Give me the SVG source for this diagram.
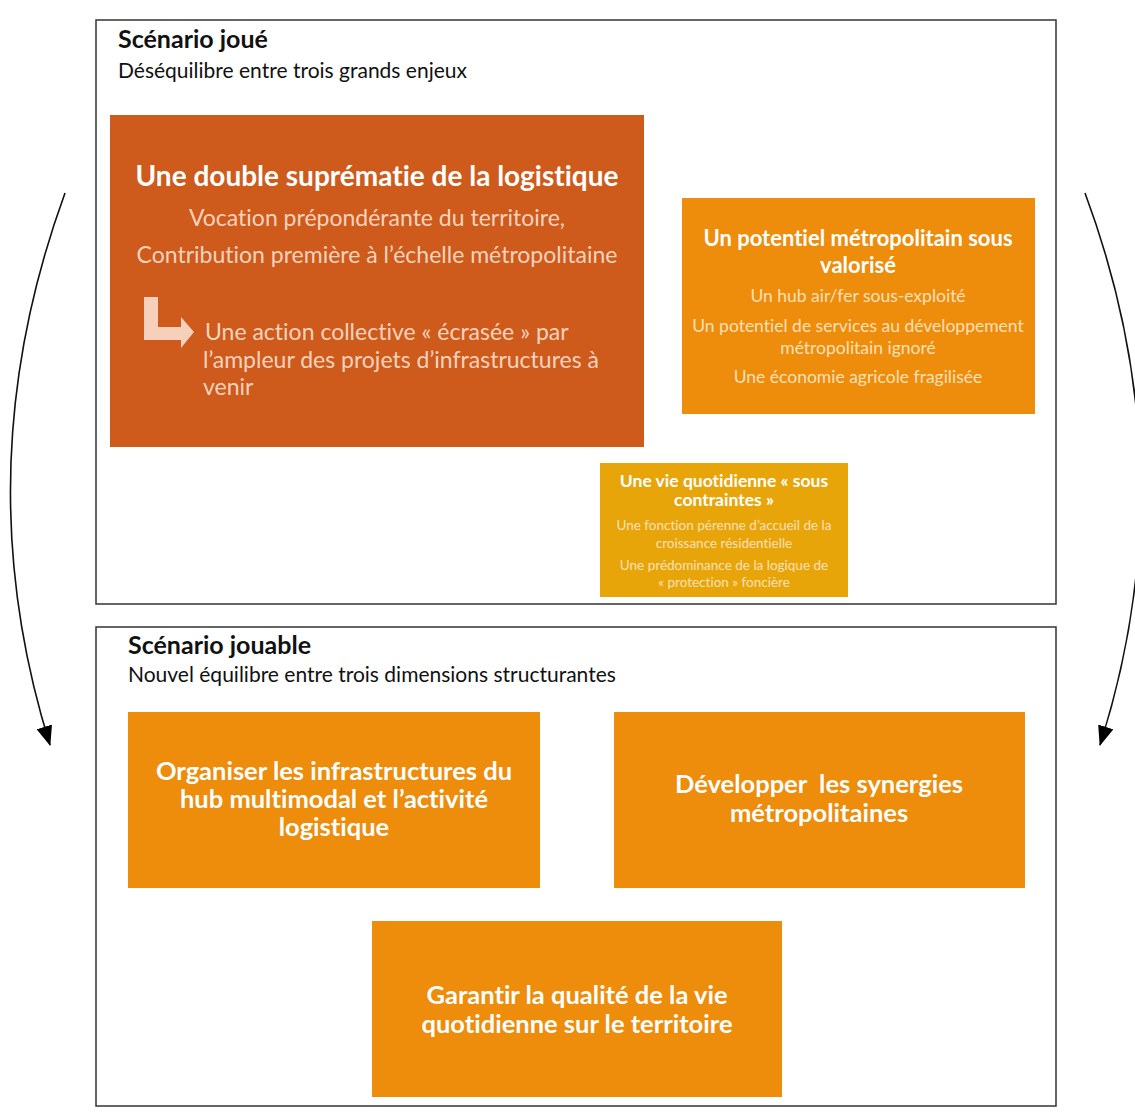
<svg xmlns="http://www.w3.org/2000/svg" width="1135" height="1120" viewBox="0 0 1135 1120">
<style>
text{font-family:Lato,"Open Sans","Liberation Sans",sans-serif;font-variant-ligatures:none}
.frame{fill:#fff;stroke:#333;stroke-width:1.5}
.h{font-weight:bold;fill:#111;font-size:25px}
.s{fill:#111;font-size:21px}
.wt{fill:#fff;font-weight:bold;text-anchor:middle}
.lt{fill:#F7D2BC;text-anchor:middle}
.lt2{fill:#FCE0B8;text-anchor:middle}
.conn{fill:none;stroke:#111;stroke-width:1.6}
</style>
<defs>
<marker id="ahb" viewBox="0 0 20 16" refX="19" refY="8" markerWidth="20" markerHeight="16" markerUnits="userSpaceOnUse" orient="auto">
<path d="M0,0 L20,8 L0,16 z" fill="#000"/>
</marker>
</defs>
<rect width="1135" height="1120" fill="#fff"/>
<g id="frame-joue">
<rect class="frame" x="96" y="20" width="960" height="584"/>
<text class="h" x="118" y="48">Scénario joué</text>
<text class="s" x="118" y="78">Déséquilibre entre trois grands enjeux</text>
</g>
<g id="frame-jouable">
<rect class="frame" x="96" y="627" width="960" height="479"/>
<text class="h" x="128" y="654">Scénario jouable</text>
<text class="s" x="128" y="682">Nouvel équilibre entre trois dimensions structurantes</text>
</g>
<g id="node-logistique">
<rect x="110" y="115" width="534" height="332" fill="#CE5B1C"/>
<text class="wt" x="377" y="186" font-size="28">Une double suprématie de la logistique</text>
<text class="lt" x="377" y="226" font-size="23">Vocation prépondérante du territoire,</text>
<text class="lt" x="377" y="263" font-size="23">Contribution première à l’échelle métropolitaine</text>
<path d="M144,297 H158 V327 H181 V317 L194,332 L181,348 V340 H144 Z" fill="#F6D0BA"/>
<text fill="#F7D2BC" font-size="23" x="205" y="340">Une action collective « écrasée » par</text>
<text fill="#F7D2BC" font-size="23" x="203" y="368">l’ampleur des projets d’infrastructures à</text>
<text fill="#F7D2BC" font-size="23" x="203" y="395">venir</text>
</g>
<g id="node-potentiel">
<rect x="682" y="198" width="353" height="216" fill="#EE8C0B"/>
<text class="wt" x="858" y="246" font-size="22">Un potentiel métropolitain sous</text>
<text class="wt" x="858" y="273" font-size="22">valorisé</text>
<text class="lt2" x="858" y="302" font-size="17.5">Un hub air/fer sous-exploité</text>
<text class="lt2" x="858" y="332" font-size="17.5">Un potentiel de services au développement</text>
<text class="lt2" x="858" y="354" font-size="17.5">métropolitain ignoré</text>
<text class="lt2" x="858" y="383" font-size="17.5">Une économie agricole fragilisée</text>
</g>
<g id="node-vie">
<rect x="600" y="463" width="248" height="134" fill="#E8A50A"/>
<text class="wt" x="724" y="487" font-size="17.5">Une vie quotidienne « sous</text>
<text class="wt" x="724" y="506" font-size="17.5">contraintes »</text>
<text class="lt2" x="724" y="530" font-size="13.5">Une fonction pérenne d’accueil de la</text>
<text class="lt2" x="724" y="548" font-size="13.5">croissance résidentielle</text>
<text class="lt2" x="724" y="570" font-size="13.5">Une prédominance de la logique de</text>
<text class="lt2" x="724" y="587" font-size="13.5">« protection » foncière</text>
</g>
<g id="node-organiser">
<rect x="128" y="712" width="412" height="176" fill="#EE8C0B"/>
<text class="wt" x="334" y="780" font-size="25.5">Organiser les infrastructures du</text>
<text class="wt" x="334" y="808" font-size="25.5">hub multimodal et l’activité</text>
<text class="wt" x="334" y="836" font-size="25.5">logistique</text>
</g>
<g id="node-developper">
<rect x="614" y="712" width="411" height="176" fill="#EE8C0B"/>
<text class="wt" x="819" y="793" font-size="25.5">Développer&#160; les synergies</text>
<text class="wt" x="819" y="822" font-size="25.5">métropolitaines</text>
</g>
<g id="node-garantir">
<rect x="372" y="921" width="410" height="176" fill="#EE8C0B"/>
<text class="wt" x="577" y="1004" font-size="25.5">Garantir la qualité de la vie</text>
<text class="wt" x="577" y="1033" font-size="25.5">quotidienne sur le territoire</text>
</g>
<g id="connectors">
<path class="conn" d="M65,193 Q-36,470 50,745" marker-end="url(#ahb)"/>
<path class="conn" d="M1085,193 Q1188,470 1100,745" marker-end="url(#ahb)"/>
</g>
</svg>
